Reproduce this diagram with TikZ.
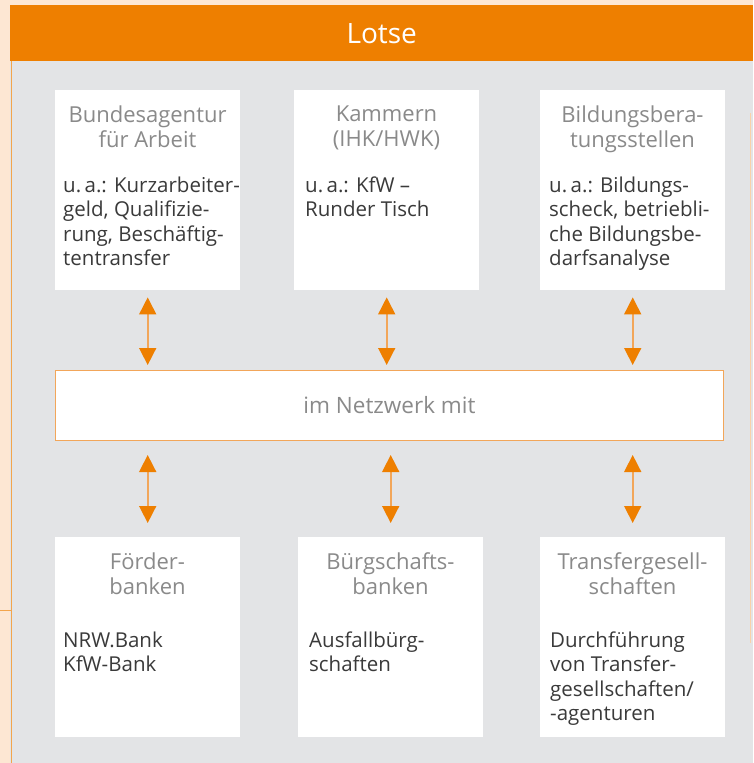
\documentclass[tikz,border=0pt]{standalone}
\usepackage{fontspec}
\setmainfont{Open Sans}
\usetikzlibrary{arrows.meta}
\definecolor{lotseorange}{HTML}{EE7F00}
\definecolor{peach}{HTML}{FDE7D3}
\definecolor{panelgrey}{HTML}{E3E4E6}
\definecolor{titlegrey}{HTML}{8A8A8A}
\definecolor{bodygrey}{HTML}{3A3A3A}
\definecolor{linkorange}{HTML}{F2A65A}

\begin{document}
\begin{tikzpicture}[x=1pt,y=-1pt,
  box/.style={fill=white,inner sep=0pt,anchor=north west,minimum width=185pt,minimum height=200pt},
  boxtitle/.style={anchor=north,align=center,inner sep=0pt,text=titlegrey,font=\fontsize{22}{25}\selectfont},
  boxbody/.style={anchor=north west,align=left,inner sep=0pt,text=bodygrey,font=\fontsize{20.5}{24.5}\selectfont},
  link/.style={draw=linkorange,line width=1.6pt,
    {Triangle[length=17pt,width=17pt,color=lotseorange]}-{Triangle[length=17pt,width=17pt,color=lotseorange]}}]

  \useasboundingbox (0,0) rectangle (753,763);
  \fill[peach] (0,0) rectangle (753,763);
  \fill[panelgrey] (10,61) rectangle (753,763);
  \draw[lotseorange!70,line width=1pt] (11,61) -- (11,763);
  \draw[lotseorange!70,line width=1pt] (0,610) -- (11,610);
  \draw[peach!80!lotseorange,line width=1pt] (750,113) -- (750,643);

  \node[fill=lotseorange,inner sep=0pt,anchor=north west,minimum width=743pt,minimum height=56pt,
    text=white,font=\fontsize{28}{30}\selectfont] (lotse) at (10,5) {Lotse};

  \node[box] (bfa) at (55,90) {};
  \node[box] (kam) at (294,90) {};
  \node[box] (bbs) at (540,90) {};

  \node[boxtitle] (bfat) at (147.5,105.5) {Bundesagentur\\für Arbeit};
  \node[boxtitle] (kamt) at (386.5,105.5) {Kammern\\(IHK/HWK)};
  \node[boxtitle] (bbst) at (632.5,105.5) {Bildungsbera-\\tungsstellen};

  \node[boxbody] (bfab) at (63,176.5) {u.\,a.: Kurzarbeiter-\\geld, Qualifizie-\\rung, Beschäftig-\\tentransfer};
  \node[boxbody] (kamb) at (305,176.5) {u.\,a.: KfW –\\Runder Tisch};
  \node[boxbody] (bbsb) at (549,176.5) {u.\,a.: Bildungs-\\scheck, betriebli-\\che Bildungsbe-\\darfsanalyse};

  \node[draw=linkorange,line width=1pt,fill=white,inner sep=0pt,anchor=north west,
    minimum width=668pt,minimum height=70pt,text=titlegrey,font=\fontsize{22.5}{25}\selectfont]
    (netz) at (55,370) {im Netzwerk mit};

  \node[box] (fb) at (55,537) {};
  \node[box] (bb) at (298,537) {};
  \node[box] (tg) at (540,537) {};

  \node[boxtitle] (fbt) at (147.5,552.5) {Förder-\\banken};
  \node[boxtitle] (bbt) at (390.5,552.5) {Bürgschafts-\\banken};
  \node[boxtitle] (tgt) at (632.5,552.5) {Transfergesell-\\schaften};

  \node[boxbody] (fbb) at (63,631.5) {NRW.Bank\\KfW-Bank};
  \node[boxbody] (bbb) at (309,631.5) {Ausfallbürg-\\schaften};
  \node[boxbody] (tgb) at (550,631.5) {Durchführung\\von Transfer-\\gesellschaften/\\-agenturen};

  \draw[link,shorten <=7pt,shorten >=5pt] (bfa.south) -- (bfa.south |- netz.north);
  \draw[link,shorten <=7pt,shorten >=5pt] (kam.south) -- (kam.south |- netz.north);
  \draw[link,shorten <=7pt,shorten >=5pt] (bbs.south) -- (bbs.south |- netz.north);

  \draw[link,shorten <=14pt,shorten >=14pt] (fb.north |- netz.south) -- (fb.north);
  \draw[link,shorten <=14pt,shorten >=14pt] (bb.north |- netz.south) -- (bb.north);
  \draw[link,shorten <=14pt,shorten >=14pt] (tg.north |- netz.south) -- (tg.north);

\end{tikzpicture}
\end{document}
